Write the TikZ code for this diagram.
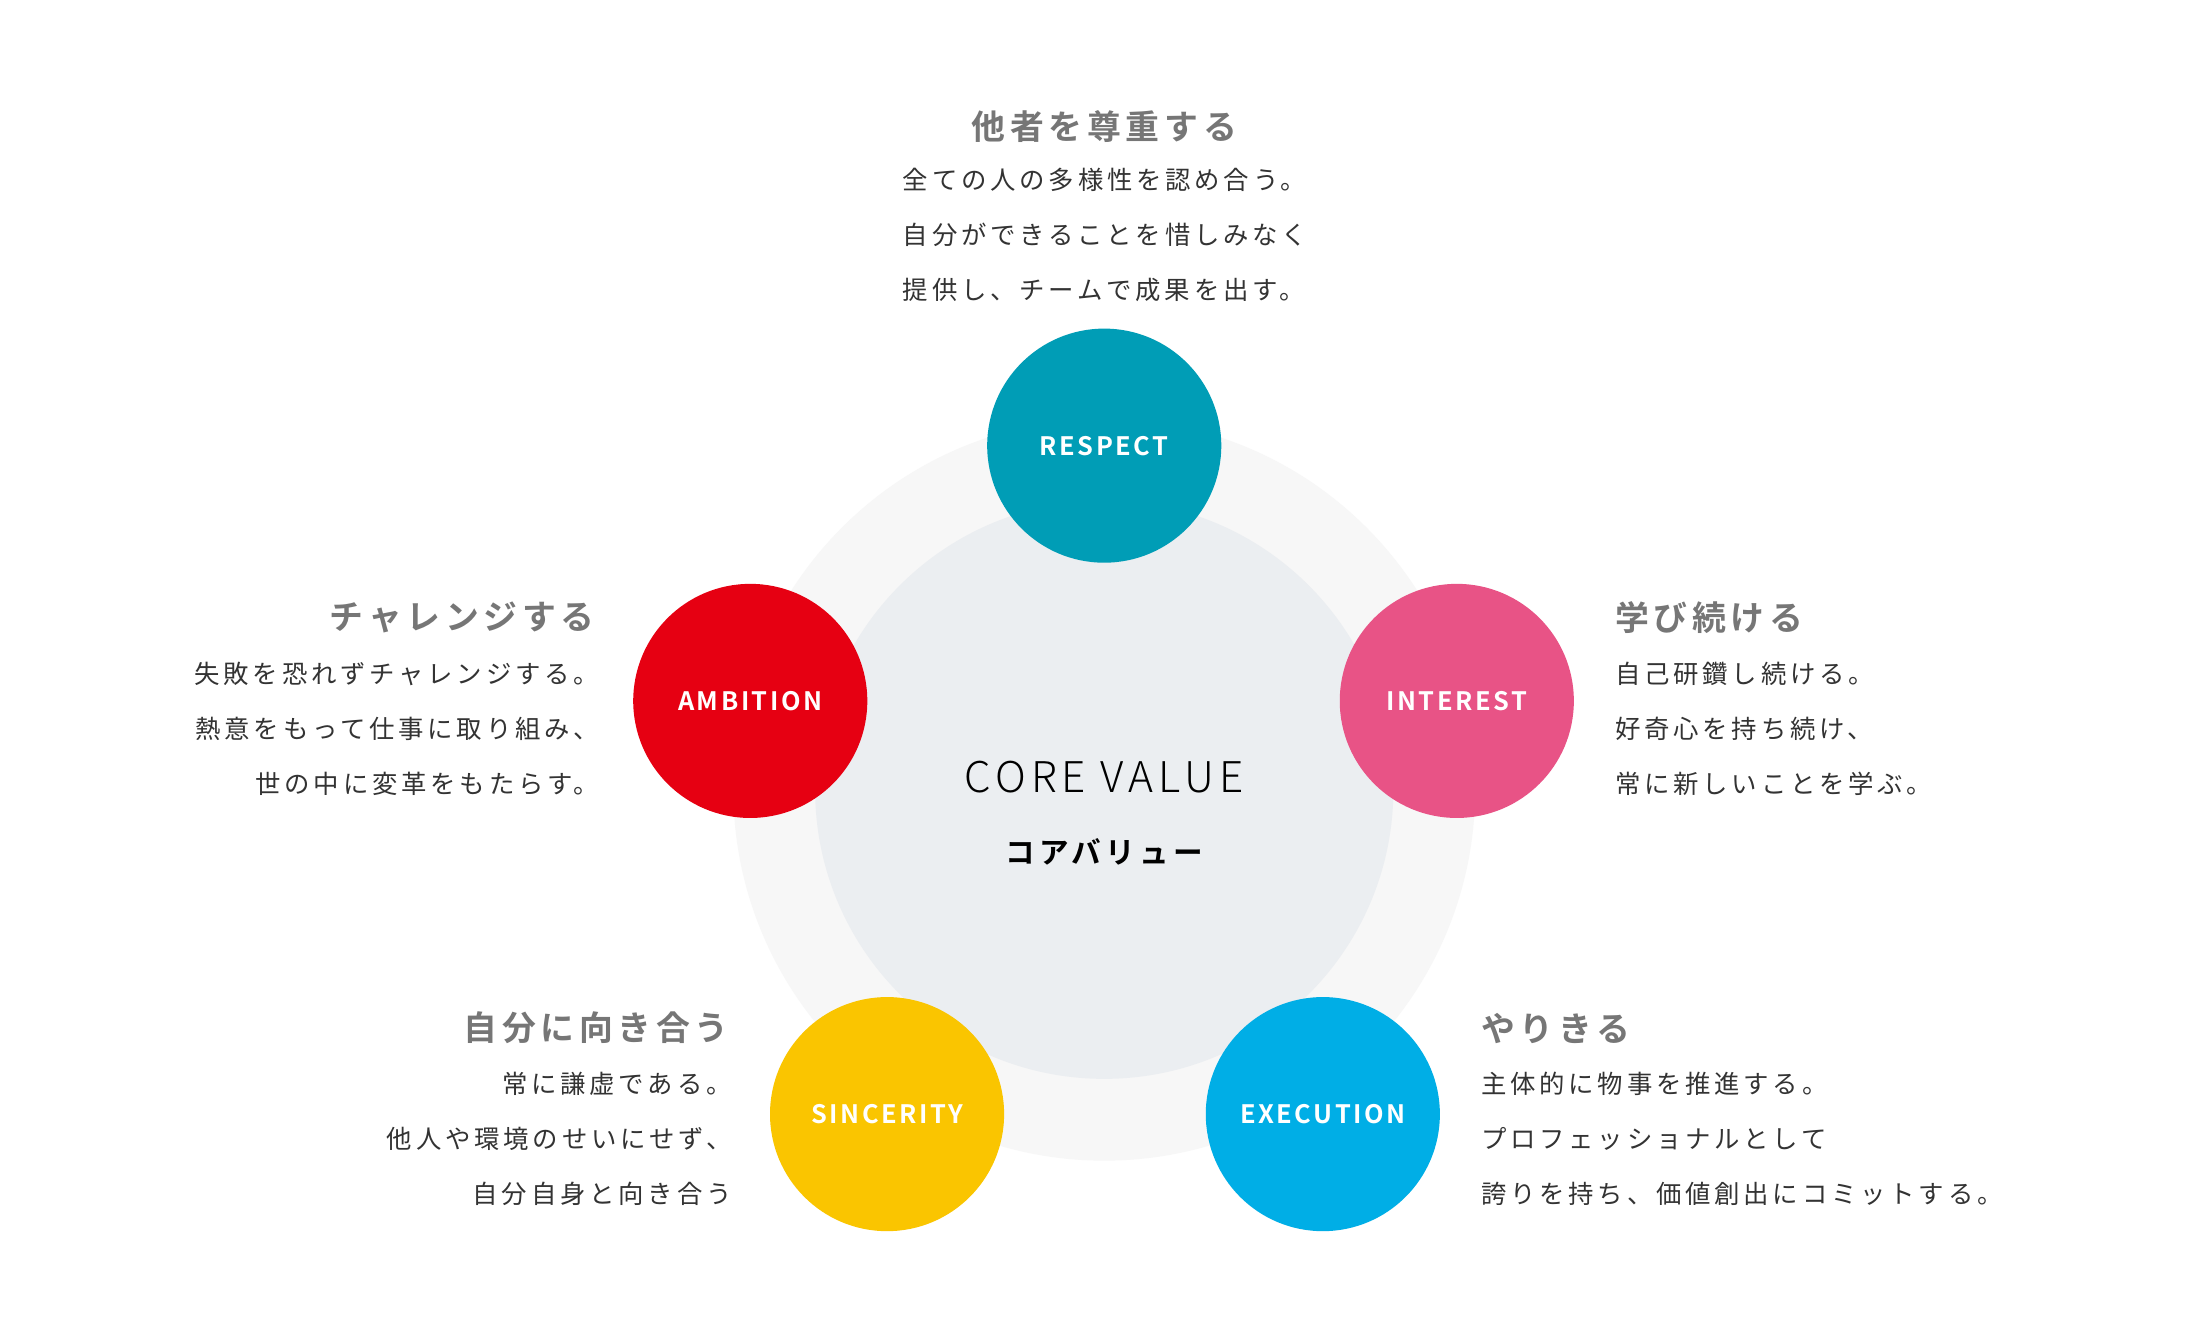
\documentclass[tikz,border=0pt]{standalone}
\usepackage{fontspec}
\setmainfont{Noto Sans CJK JP}
\newfontfamily\jpbody[LetterSpace=15]{Noto Sans CJK JP}
\newfontfamily\jptitle[LetterSpace=14]{Noto Sans CJK JP Bold}
\newfontfamily\circfont[LetterSpace=10]{Noto Sans CJK JP Bold}
\newfontfamily\corefont[LetterSpace=12]{Noto Sans CJK JP Light}
\definecolor{teal1}{HTML}{009DB6}
\definecolor{red1}{HTML}{E60012}
\definecolor{pink1}{HTML}{E85386}
\definecolor{yel1}{HTML}{FAC500}
\definecolor{blue1}{HTML}{00AEE6}
\definecolor{tgrey}{HTML}{767676}
\definecolor{tdark}{HTML}{333333}
\definecolor{inner}{HTML}{EBEEF1}
\definecolor{outer}{HTML}{F7F7F7}
\begin{document}
\begin{tikzpicture}[x=1pt,y=-1pt,
  val/.style={circle,minimum size=166pt,inner sep=0pt,text=white,font=\circfont\fontsize{18}{20}\selectfont},
  ttl/.style={font=\jptitle\fontsize{24}{26}\selectfont,text=tgrey,inner sep=0pt},
  body/.style={font=\jpbody\fontsize{18}{39}\selectfont,text=tdark,inner sep=0pt}]
\useasboundingbox (0,0) rectangle (1560,946);
\fill[white] (0,0) rectangle (1560,946);
\fill[outer] (783,560) circle (263);
\fill[inner] (783,560) circle (205);
\node[val,fill=teal1] (res) at (783,316) {RESPECT};
\node[val,fill=red1] (amb) at (532,497) {AMBITION};
\node[val,fill=pink1] (int) at (1033,497) {INTEREST};
\node[val,fill=yel1] (sin) at (629,790) {SINCERITY};
\node[val,fill=blue1] (exe) at (938,790) {EXECUTION};
\node[font=\corefont\fontsize{30}{32}\selectfont,text=black] (core) at (783,551) {CORE VALUE};
\node[font=\jptitle\fontsize{21}{23}\selectfont,text=black] (corej) at (783,604) {コアバリュー};
\node[ttl] (rt) at (783,90) {他者を尊重する};
\node[body,anchor=north west,align=left] (rb) at (640,119) {全ての人の多様性を認め合う。\\自分ができることを惜しみなく\\提供し、チームで成果を出す。};
\node[ttl,anchor=east] (at) at (422,438) {チャレンジする};
\node[body,anchor=north east,align=right] (ab) at (425,469) {失敗を恐れずチャレンジする。\\熱意をもって仕事に取り組み、\\世の中に変革をもたらす。};
\node[ttl,anchor=west] (it) at (1145,438) {学び続ける};
\node[body,anchor=north west,align=left] (ib) at (1145,469) {自己研鑽し続ける。\\好奇心を持ち続け、\\常に新しいことを学ぶ。};
\node[ttl,anchor=east] (st) at (517,729) {自分に向き合う};
\node[body,anchor=north east,align=right] (sb) at (519,760) {常に謙虚である。\\他人や環境のせいにせず、\\自分自身と向き合う};
\node[ttl,anchor=west] (et) at (1050,729) {やりきる};
\node[body,anchor=north west,align=left] (eb) at (1050,760) {主体的に物事を推進する。\\プロフェッショナルとして\\誇りを持ち、価値創出にコミットする。};
\end{tikzpicture}
\end{document}
